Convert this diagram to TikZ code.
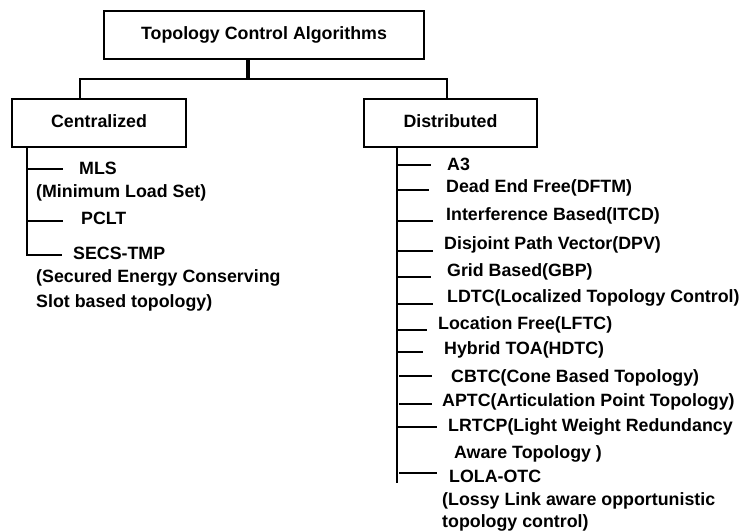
\documentclass[tikz,border=0pt]{standalone}
\usepackage{fontspec}
\setmainfont{Liberation Sans}
\begin{document}
\begin{tikzpicture}[x=1pt,y=-1pt,
  every node/.style={font=\fontsize{17.8}{21}\selectfont\bfseries},
  box/.style={draw, line width=2.8pt, inner sep=0, text height=12.7pt, text depth=3.8pt},
  item/.style={anchor=base west, inner sep=0},
  conn/.style={line width=2.8pt},
  stem/.style={line width=3.8pt}]
\useasboundingbox (0,0) rectangle (746,532);
% boxes
\node[box, minimum width=320pt, minimum height=48pt] (top) at (264,35) {Topology Control Algorithms};
\node[box, minimum width=174pt, minimum height=48pt] (cen) at (99,123) {Centralized};
\node[box, minimum width=173pt, minimum height=48pt] (dist) at (450.5,123) {Distributed};
% junctions
\coordinate (jm) at (248,79);
\coordinate (jl) at (80,79);
\coordinate (jr) at (447,79);
\draw[stem] (top.south -| jm) -- (jm);
\draw[conn] (cen.north -| jl) -- (jl) -- (jr) -- (dist.north -| jr);
% left items
\node[item] (mls) at (79,174) {MLS};
\node[item] (mlsd) at (36,197) {(Minimum Load Set)};
\node[item] (pclt) at (81,224) {PCLT};
\node[item] (secs) at (73,259) {SECS-TMP};
\node[item] (secsa) at (36,282) {(Secured Energy Conserving};
\node[item] (secsb) at (36,307) {Slot based topology)};
% left trunk
\coordinate (lt) at (27,147);
\coordinate (l1) at (27,169); \coordinate (l1e) at (63,169);
\coordinate (l2) at (27,221); \coordinate (l2e) at (63,221);
\coordinate (l3) at (27,255); \coordinate (l3e) at (62,255);
\draw[conn] (cen.south -| lt) -- (l3) -- (l3e);
\draw[conn] (l1) -- (l1e);
\draw[conn] (l2) -- (l2e);
% right items
\node[item] (r1) at (447,170) {A3};
\node[item] (r2) at (446,192) {Dead End Free(DFTM)};
\node[item] (r3) at (446,220) {Interference Based(ITCD)};
\node[item] (r4) at (444,249) {Disjoint Path Vector(DPV)};
\node[item] (r5) at (447,276) {Grid Based(GBP)};
\node[item] (r6) at (447,302) {LDTC(Localized Topology Control)};
\node[item] (r7) at (438,329) {Location Free(LFTC)};
\node[item] (r8) at (444,354) {Hybrid TOA(HDTC)};
\node[item] (r9) at (451,382) {CBTC(Cone Based Topology)};
\node[item] (r10) at (442,406) {APTC(Articulation Point Topology)};
\node[item] (r11) at (448,431) {LRTCP(Light Weight Redundancy};
\node[item] (r11b) at (454,458) {Aware Topology )};
\node[item] (r12) at (449,482) {LOLA-OTC};
\node[item] (r12b) at (442,505) {(Lossy Link aware opportunistic};
\node[item] (r12c) at (442,527.5) {topology control)};
% right trunk
\coordinate (rt) at (397,147);
\coordinate (rb) at (397,483);
\draw[conn] (dist.south -| rt) -- (rb);
\coordinate (a1) at (397,165); \coordinate (e1) at (431,165);
\coordinate (a2) at (397,190); \coordinate (e2) at (429,190);
\coordinate (a3) at (397,221); \coordinate (e3) at (433,221);
\coordinate (a4) at (397,251); \coordinate (e4) at (433,251);
\coordinate (a5) at (397,277); \coordinate (e5) at (431,277);
\coordinate (a6) at (397,304); \coordinate (e6) at (433,304);
\coordinate (a7) at (397,330); \coordinate (e7) at (427,330);
\coordinate (a8) at (397,352); \coordinate (e8) at (423,352);
\coordinate (a9) at (399,376); \coordinate (e9) at (432,376);
\coordinate (a10) at (399,404); \coordinate (e10) at (432,404);
\coordinate (a11) at (397,427); \coordinate (e11) at (437,427);
\coordinate (a12) at (399,473); \coordinate (e12) at (437,473);
\foreach \i in {1,...,12} {\draw[conn] (a\i) -- (e\i);}
\end{tikzpicture}
\end{document}
